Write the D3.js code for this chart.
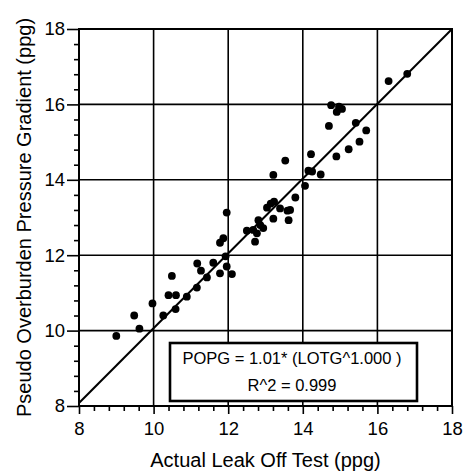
<!DOCTYPE html>
<html>
<head>
<meta charset="utf-8">
<script src="https://cdn.jsdelivr.net/npm/d3@7/dist/d3.min.js"></script>
<style>
  html, body { margin: 0; padding: 0; background: #fff; }
  svg { display: block; }
  text { font-family: "Liberation Sans", Arial, Helvetica, sans-serif; fill: #000; }
</style>
</head>
<body>
<svg id="chart" width="463" height="472"></svg>
<script>
// ---- data ----
const xTicks = [8, 10, 12, 14, 16, 18];
const yTicks = [8, 10, 12, 14, 16, 18];
const xMinor = [8.4, 8.8, 9.2, 9.6, 10.4, 10.8, 11.2, 11.6, 12.4, 12.8, 13.2, 13.6, 14.4, 14.8, 15.2, 15.6, 16.4, 16.8, 17.2, 17.6];
const yMinor = [8.4, 8.8, 9.2, 9.6, 10.4, 10.8, 11.2, 11.6, 12.4, 12.8, 13.2, 13.6, 14.4, 14.8, 15.2, 15.6, 16.4, 16.8, 17.2, 17.6];
const lotg = [9.00, 9.48, 9.62, 9.97, 10.26, 10.49, 10.40, 10.60, 10.59, 10.89,
              11.16, 11.17, 11.27, 11.43, 11.60, 11.78, 11.78, 11.87, 11.96, 11.96,
              12.10, 11.93, 12.50, 12.67, 12.72, 12.77, 12.81, 12.94, 12.86, 13.04,
              13.14, 13.21, 13.23, 13.39, 13.59, 13.66, 13.62, 13.80, 13.53, 13.21,
              14.06, 14.15, 14.25, 14.22, 14.48, 14.90, 15.23, 15.52, 15.70, 15.42,
              14.70, 14.76, 14.91, 15.05, 14.97, 16.30, 16.80];
const popg = [9.86, 10.40, 10.05, 10.72, 10.40, 11.45, 10.94, 10.94, 10.57, 10.90,
              11.14, 11.78, 11.59, 11.41, 11.80, 11.52, 12.33, 12.45, 13.13, 11.70,
              11.50, 11.97, 12.65, 12.67, 12.36, 12.58, 12.93, 12.72, 12.80, 13.26,
              13.37, 12.97, 13.42, 13.24, 13.18, 13.20, 12.93, 13.53, 14.51, 14.13,
              13.84, 14.24, 14.22, 14.68, 14.14, 14.62, 14.81, 15.01, 15.31, 15.51,
              15.43, 15.98, 15.80, 15.88, 15.94, 16.62, 16.81];
const fitX = [8, 18];
const fitY = [8.08, 18];
const xTitle = "Actual Leak Off Test (ppg)";
const yTitle = "Pseudo Overburden Pressure Gradient (ppg)";
const legendLines = ["POPG = 1.01* (LOTG^1.000 )", "R^2 = 0.999"];

// ---- layout ----
const svg = d3.select("#chart");
const L = 79, R = 452, T = 29, B = 406;
const x = d3.scaleLinear().domain([8, 18]).range([L, R]);
const y = d3.scaleLinear().domain([8, 18]).range([B, T]);

// gridlines
const grid = svg.append("g").attr("stroke", "#000").attr("stroke-width", 1.6);
grid.selectAll(".gx").data(xTicks.slice(1, -1)).enter().append("line")
  .attr("x1", d => x(d)).attr("x2", d => x(d)).attr("y1", T).attr("y2", B);
grid.selectAll(".gy").data(yTicks.slice(1, -1)).enter().append("line")
  .attr("y1", d => y(d)).attr("y2", d => y(d)).attr("x1", L).attr("x2", R);

// minor ticks
const minorX = svg.append("g").attr("transform", `translate(0,${B})`)
  .call(d3.axisBottom(x).tickValues(xMinor).tickSize(5).tickFormat(""));
const minorY = svg.append("g").attr("transform", `translate(${L},0)`)
  .call(d3.axisLeft(y).tickValues(yMinor).tickSize(5).tickFormat(""));

// major axes
const ax = svg.append("g").attr("transform", `translate(0,${B})`)
  .call(d3.axisBottom(x).tickValues(xTicks).tickSize(8).tickPadding(8).tickFormat(d3.format("d")));
const ay = svg.append("g").attr("transform", `translate(${L},0)`)
  .call(d3.axisLeft(y).tickValues(yTicks).tickSize(12).tickPadding(2).tickFormat(d3.format("d")));

[minorX, minorY, ax, ay].forEach(g => {
  g.select(".domain").remove();
  g.selectAll("line").attr("stroke", "#000").attr("stroke-width", 1.6);
});
[ax, ay].forEach(g => {
  g.selectAll("text").attr("font-size", 18.5).attr("fill", "#000")
    .style("font-family", "'Liberation Sans', Arial, sans-serif");
});

// frame
svg.append("rect").attr("x", L).attr("y", T).attr("width", R - L).attr("height", B - T)
  .attr("fill", "none").attr("stroke", "#000").attr("stroke-width", 2);

// fit line
svg.append("defs").append("clipPath").attr("id", "clip")
  .append("rect").attr("x", L).attr("y", T).attr("width", R - L).attr("height", B - T);
svg.append("line")
  .attr("clip-path", "url(#clip)")
  .attr("x1", x(fitX[0])).attr("y1", y(fitY[0]))
  .attr("x2", x(fitX[1])).attr("y2", y(fitY[1]))
  .attr("stroke", "#000").attr("stroke-width", 2);

// points
svg.append("g").selectAll("circle").data(lotg.map((v, i) => [v, popg[i]])).enter()
  .append("circle")
  .attr("cx", d => x(d[0])).attr("cy", d => y(d[1])).attr("r", 3.9)
  .attr("fill", "#000");

// legend box
const lg = svg.append("g");
lg.append("rect").attr("x", 170).attr("y", 343).attr("width", 247).attr("height", 58)
  .attr("fill", "#fff").attr("stroke", "#000").attr("stroke-width", 2.6);
lg.selectAll("text").data(legendLines).enter().append("text")
  .attr("x", 292).attr("y", (d, i) => 364 + i * 27)
  .attr("text-anchor", "middle").attr("font-size", 16.5)
  .text(d => d);

// titles
svg.append("text").attr("x", (L + R) / 2).attr("y", 467)
  .attr("text-anchor", "middle").attr("font-size", 20).text(xTitle);
svg.append("text")
  .attr("transform", `translate(31,${(T + B) / 2}) rotate(-90)`)
  .attr("text-anchor", "middle").attr("font-size", 20).text(yTitle);
</script>
</body>
</html>
